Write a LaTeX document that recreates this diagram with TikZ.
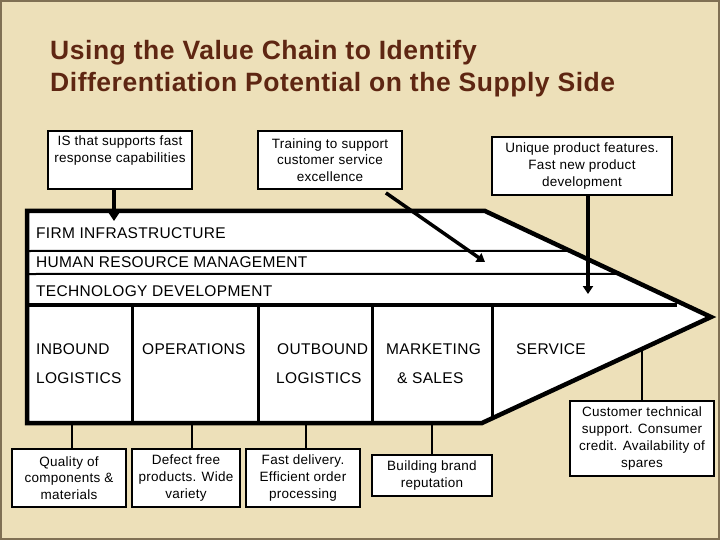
\documentclass[tikz,border=0pt]{standalone}
\usepackage{fontspec}
\setmainfont{Liberation Sans}
\newfontfamily\titlefont[LetterSpace=2]{Liberation Sans}
\newfontfamily\labelfont[LetterSpace=2]{Liberation Sans}
\newfontfamily\notefont[LetterSpace=2]{Liberation Sans}
\usetikzlibrary{arrows.meta, calc, positioning}
\definecolor{slidebg}{RGB}{237,224,185}
\definecolor{slideframe}{RGB}{128,112,84}
\definecolor{titlebrown}{RGB}{94,38,18}

\begin{document}
\begin{tikzpicture}[x=1pt, y=-1pt,
    every node/.style={inner sep=0pt},
    heading/.style={anchor=base west, text=titlebrown, font=\titlefont\bfseries\fontsize{26.5}{30}\selectfont},
    activity/.style={anchor=base west, font=\labelfont\fontsize{15.5}{18}\selectfont},
    note/.style={draw, fill=white, line width=1.8pt, align=center, font=\notefont\fontsize{13.5}{16.8}\selectfont},
    link/.style={line width=2pt},
    pointer/.style={line width=4pt, -{Triangle[length=8pt, width=10pt]}}]
    \fill[slidebg] (0,0) rectangle (720,540);
    \draw[slideframe, line width=2pt] (1,1) rectangle (719,539);
    \useasboundingbox (0,0) rectangle (720,540);

    \node[heading] (title1) at (50,60) {Using the Value Chain to Identify};
    \node[heading] (title2) at (50,92) {Differentiation Potential on the Supply Side};

    \coordinate (nw) at (27,211);
    \coordinate (ne) at (485,211);
    \coordinate (tip) at (711,317);
    \coordinate (se) at (482,423);
    \coordinate (sw) at (27,423);
    \draw[line width=4.5pt, fill=white] (nw) -- (ne) -- (tip) -- (se) -- (sw) -- cycle;
    \draw[line width=2pt] (27,251) -- ($(ne)!0.377!(tip)$);
    \draw[line width=2pt] (27,274) -- ($(ne)!0.594!(tip)$);
    \draw[line width=4pt] (27,305) -- (677,305);
    \foreach \x in {132,258,372}
        \draw[line width=3pt] (\x,305) -- (\x,423);
    \draw[line width=3pt] (492,305) -- (492,419);

    \node[activity] (firm) at (36,239) {FIRM INFRASTRUCTURE};
    \node[activity] (hrm) at (36,267) {HUMAN RESOURCE MANAGEMENT};
    \node[activity] (tech) at (36,296) {TECHNOLOGY DEVELOPMENT};
    \node[activity] (inbound) at (36,354) {INBOUND};
    \node[activity] (inbound2) at (36,383) {LOGISTICS};
    \node[activity] (operations) at (142,354) {OPERATIONS};
    \node[activity] (outbound) at (277,354) {OUTBOUND};
    \node[activity] (outbound2) at (276,383) {LOGISTICS};
    \node[activity] (marketing) at (386,354) {MARKETING};
    \node[activity] (marketing2) at (397,383) {\& SALES};
    \node[activity] (service) at (516,354) {SERVICE};

    \node[note, minimum width=144pt, minimum height=58pt] (infra) at (120,160)
        {IS that supports fast\\response capabilities\\\strut};
    \node[note, minimum width=144pt, minimum height=58pt] (training) at (330,160)
        {Training to support\\customer service\\excellence};
    \node[note, minimum width=180pt, minimum height=58pt] (features) at (582,166)
        {Unique product features.\\Fast new product\\development};

    \node[note, minimum width=114pt, minimum height=58pt] (quality) at (69,478)
        {Quality of\\components \&\\materials};
    \node[note, minimum width=108pt, minimum height=58pt] (defect) at (186,478)
        {Defect free\\products. Wide\\variety};
    \node[note, minimum width=114pt, minimum height=58pt] (delivery) at (303,478)
        {Fast delivery.\\Efficient order\\processing};
    \node[note, minimum width=120pt, minimum height=41pt] (brand) at (432,475.5)
        {Building brand\\reputation};
    \node[note, minimum width=144pt, minimum height=75pt] (support) at (642,438.5)
        {Customer technical\\support. Consumer\\credit. Availability of\\spares};

    \coordinate (infratip) at (114,221);
    \coordinate (hrmtip) at (485,262);
    \coordinate (techtip) at (588,294);
    \draw[pointer] (infra.south -| infratip) -- (infratip);
    \draw[pointer, line width=3.5pt] ([xshift=-17pt, yshift=-3pt]training.south east) -- (hrmtip);
    \draw[pointer] (techtip |- features.south) -- (techtip);

    \coordinate (q1) at (72,423);
    \coordinate (q2) at (192,423);
    \coordinate (q3) at (306,423);
    \coordinate (q4) at (432,423);
    \coordinate (q5) at ($(se)!0.699!(tip)$);
    \draw[link] (q1) -- (q1 |- quality.north);
    \draw[link] (q2) -- (q2 |- defect.north);
    \draw[link] (q3) -- (q3 |- delivery.north);
    \draw[link] (q4) -- (q4 |- brand.north);
    \draw[link] (q5) -- (q5 |- support.north);
\end{tikzpicture}
\end{document}
